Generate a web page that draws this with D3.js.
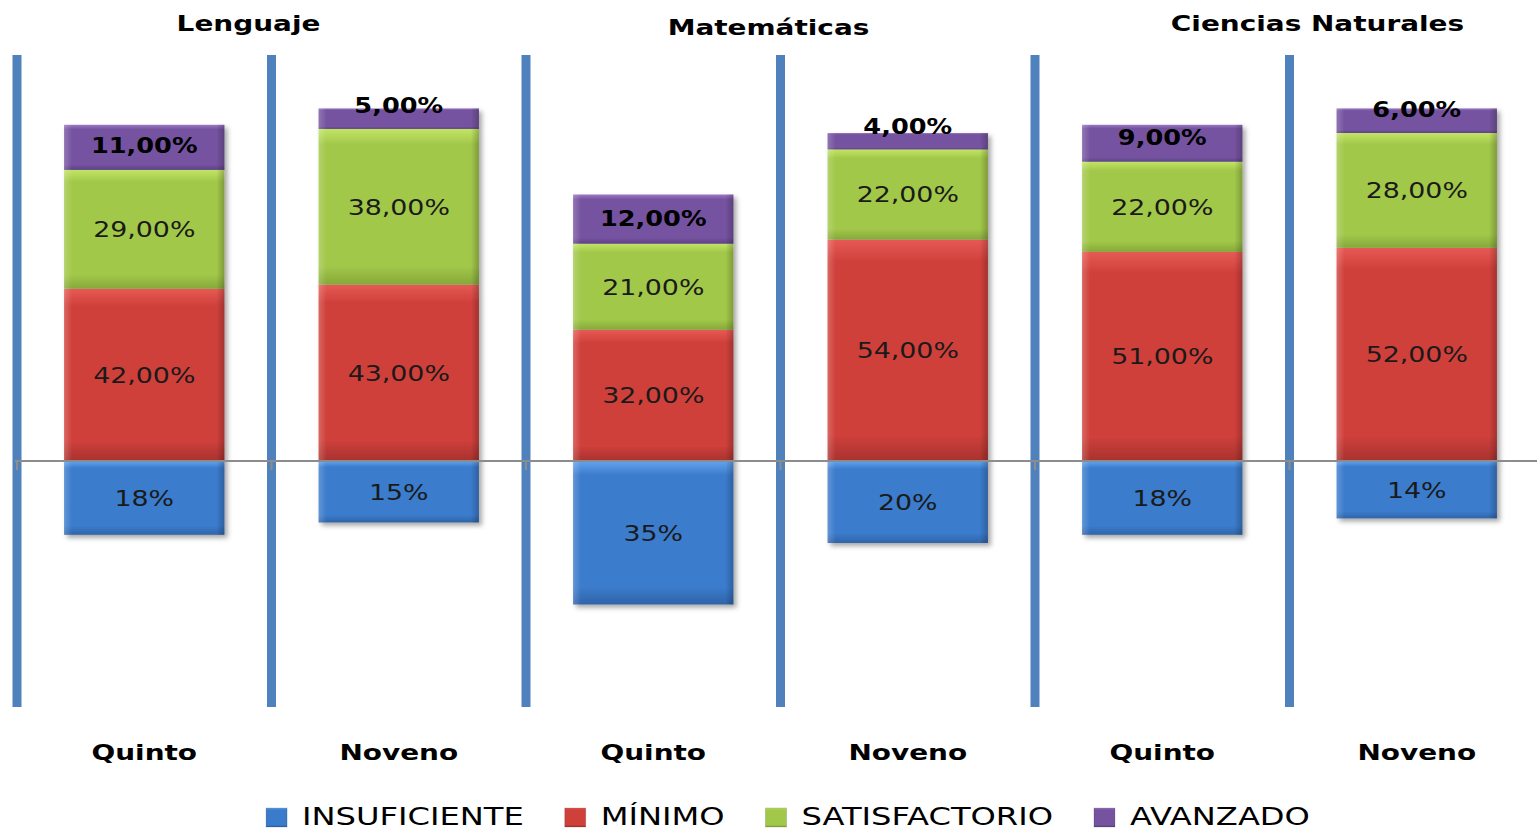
<!DOCTYPE html>
<html lang="es">
  <meta charset="utf-8" />
  <script src="https://d3js.org/d3.v7.min.js"></script>
  <style>
    body {
      margin: 0;
      background: #ffffff;
    }
    svg text {
      font-family: "DejaVu Sans", Verdana, sans-serif;
    }
  </style>
  <body>
    <svg width="1537" height="831"></svg>
    <script>
      const groups = ["Lenguaje", "Matemáticas", "Ciencias Naturales"];
      const grades = ["Quinto", "Noveno"];
      const seriesNames = ["INSUFICIENTE", "MÍNIMO", "SATISFACTORIO", "AVANZADO"];
      const insuficiente = [18, 15, 35, 20, 18, 14];
      const minimo = [42, 43, 32, 54, 51, 52];
      const satisfactorio = [29, 38, 21, 22, 22, 28];
      const avanzado = [11, 5, 12, 4, 9, 6];

      const colors = {
        INSUFICIENTE: ["#64a3ee", "#3b7bcc", "#2f64a8"],
        "MÍNIMO": ["#e65a55", "#d0403b", "#a8322f"],
        SATISFACTORIO: ["#c2e466", "#a2c84a", "#86a83a"],
        AVANZADO: ["#9a78c4", "#7553a0", "#5e4284"],
      };

      // one row per bar
      const bars = [];
      groups.forEach((g, gi) => {
        grades.forEach((gr, k) => {
          const i = gi * 2 + k;
          bars.push({
            id: i,
            group: g,
            grade: gr,
            INSUFICIENTE: insuficiente[i],
            "MÍNIMO": minimo[i],
            SATISFACTORIO: satisfactorio[i],
            AVANZADO: avanzado[i],
          });
        });
      });

      const svg = d3.select("svg");
      const defs = svg.append("defs");

      const pad = 0.37;
      const x = d3
        .scaleBand()
        .domain(bars.map((d) => d.id))
        .range([17, 1544])
        .paddingInner(pad)
        .paddingOuter(pad / 2);
      const y = d3.scaleLinear().domain([-40, 100]).range([625, 51]);
      const boundary = (id) => x(id) - (x.step() * pad) / 2;

      // gradients for the bevelled look
      seriesNames.forEach((s, i) => {
        const c = colors[s];
        const gr = defs
          .append("linearGradient")
          .attr("id", "g" + i)
          .attr("x1", 0)
          .attr("y1", 0)
          .attr("x2", 0)
          .attr("y2", 1);
        gr.append("stop").attr("offset", 0).attr("stop-color", c[0]);
        gr.append("stop").attr("offset", 0.1).attr("stop-color", c[1]);
        gr.append("stop").attr("offset", 0.88).attr("stop-color", c[1]);
        gr.append("stop").attr("offset", 1).attr("stop-color", c[2]);
      });
      const side = defs
        .append("linearGradient")
        .attr("id", "side")
        .attr("x1", 0)
        .attr("x2", 1)
        .attr("y1", 0)
        .attr("y2", 0);
      side.append("stop").attr("offset", 0).attr("stop-color", "#ffffff").attr("stop-opacity", 0.2);
      side.append("stop").attr("offset", 0.05).attr("stop-color", "#ffffff").attr("stop-opacity", 0);
      side.append("stop").attr("offset", 0.95).attr("stop-color", "#000000").attr("stop-opacity", 0);
      side.append("stop").attr("offset", 1).attr("stop-color", "#000000").attr("stop-opacity", 0.22);

      const shadow = defs.append("filter").attr("id", "shadow").attr("x", "-10%").attr("y", "-10%").attr("width", "125%").attr("height", "125%");
      shadow
        .append("feDropShadow")
        .attr("dx", 3)
        .attr("dy", 3)
        .attr("stdDeviation", 2.5)
        .attr("flood-color", "#000")
        .attr("flood-opacity", 0.35);

      // stacked segments: insuficiente below zero, the rest above
      const segs = [];
      bars.forEach((b) => {
        segs.push({ bar: b, s: "INSUFICIENTE", si: 0, y0: -b.INSUFICIENTE, y1: 0, v: b.INSUFICIENTE });
        let acc = 0;
        seriesNames.slice(1).forEach((s, j) => {
          segs.push({ bar: b, s: s, si: j + 1, y0: acc, y1: acc + b[s], v: b[s] });
          acc += b[s];
        });
      });

      // vertical separators
      svg
        .append("g")
        .selectAll("rect")
        .data(bars)
        .join("rect")
        .attr("x", (d) => boundary(d.id) - 4.5)
        .attr("y", 55)
        .attr("width", 9)
        .attr("height", 652)
        .attr("fill", "#4f81bd");

      const barG = svg
        .append("g")
        .selectAll("g")
        .data(bars)
        .join("g")
        .attr("filter", "url(#shadow)");

      barG
        .selectAll("rect.seg")
        .data((b) => segs.filter((s) => s.bar === b))
        .join("rect")
        .attr("class", "seg")
        .attr("x", (d) => x(d.bar.id))
        .attr("y", (d) => y(d.y1))
        .attr("width", x.bandwidth())
        .attr("height", (d) => y(d.y0) - y(d.y1))
        .attr("fill", (d) => "url(#g" + d.si + ")");

      barG
        .selectAll("rect.side")
        .data((b) => segs.filter((s) => s.bar === b))
        .join("rect")
        .attr("class", "side")
        .attr("x", (d) => x(d.bar.id))
        .attr("y", (d) => y(d.y1))
        .attr("width", x.bandwidth())
        .attr("height", (d) => y(d.y0) - y(d.y1))
        .attr("fill", "url(#side)");

      // zero axis with ticks at the boundaries
      const axis = svg.append("g");
      axis
        .append("line")
        .attr("x1", 15)
        .attr("x2", 1537)
        .attr("y1", y(0))
        .attr("y2", y(0))
        .attr("stroke", "#8c8c8c")
        .attr("stroke-width", 2);
      axis
        .selectAll("line.tick")
        .data(bars)
        .join("line")
        .attr("class", "tick")
        .attr("x1", (d) => boundary(d.id))
        .attr("x2", (d) => boundary(d.id))
        .attr("y1", y(0))
        .attr("y2", y(0) + 9)
        .attr("stroke", "#8c8c8c")
        .attr("stroke-width", 2);

      // data labels
      const fmt = (d) =>
        d.s === "INSUFICIENTE" ? d.v + "%" : d3.format(".2f")(d.v).replace(".", ",") + "%";
      const labelY = (d) => {
        const top = y(d.y1);
        const h = y(d.y0) - top;
        return top + h / 2 - Math.max(0, (50 - h) * 0.45);
      };
      svg
        .append("g")
        .selectAll("text")
        .data(segs)
        .join("text")
        .attr("transform", (d) => `translate(${x(d.bar.id) + x.bandwidth() / 2},${labelY(d)}) scale(1.22,1)`)
        .attr("text-anchor", "middle")
        .attr("dy", "0.36em")
        .attr("font-size", (d) => (d.s === "AVANZADO" ? 21 : 22))
        .attr("font-weight", (d) => (d.s === "AVANZADO" ? "bold" : "normal"))
        .attr("fill", (d) => (d.s === "AVANZADO" ? "#000" : "#1a1a1a"))
        .text(fmt);

      // category labels
      svg
        .append("g")
        .selectAll("text")
        .data(bars)
        .join("text")
        .attr("transform", (d) => `translate(${x(d.id) + x.bandwidth() / 2},760) scale(1.27,1)`)
        .attr("text-anchor", "middle")
        .attr("font-size", 22)
        .attr("font-weight", "bold")
        .attr("fill", "#000")
        .text((d) => d.grade);

      // group titles
      const titleShift = [-23, -12, 28];
      const titleBase = [31, 35, 31];
      svg
        .append("g")
        .selectAll("text")
        .data(groups)
        .join("text")
        .attr("transform", (d, i) => `translate(${boundary(i * 2 + 1) + titleShift[i]},${titleBase[i]}) scale(1.27,1)`)
        .attr("text-anchor", "middle")
        .attr("font-size", 22)
        .attr("font-weight", "bold")
        .attr("fill", "#000")
        .text((d) => d);

      // legend
      const legend = svg.append("g");
      const items = legend
        .selectAll("g")
        .data(seriesNames)
        .join("g");
      items
        .append("rect")
        .attr("width", 21)
        .attr("height", 19)
        .attr("y", 808)
        .attr("fill", (d, i) => "url(#g" + i + ")")
        .attr("stroke", "rgba(0,0,0,0.15)");
      items
        .append("text")
        .attr("transform", "translate(36,825) scale(1.34,1)")
        .attr("font-size", 24)
        .attr("fill", "#000")
        .text((d) => d);
      let cx = 0;
      const offs = [];
      items.each(function () {
        const w = this.querySelector("text").getBBox().width * 1.34 + 36;
        offs.push(cx);
        cx += w + 41;
      });
      const total = cx - 41;
      const start = 788 - total / 2;
      items.attr("transform", (d, i) => `translate(${start + offs[i]},0)`);
    </script>
  </body>
</html>
